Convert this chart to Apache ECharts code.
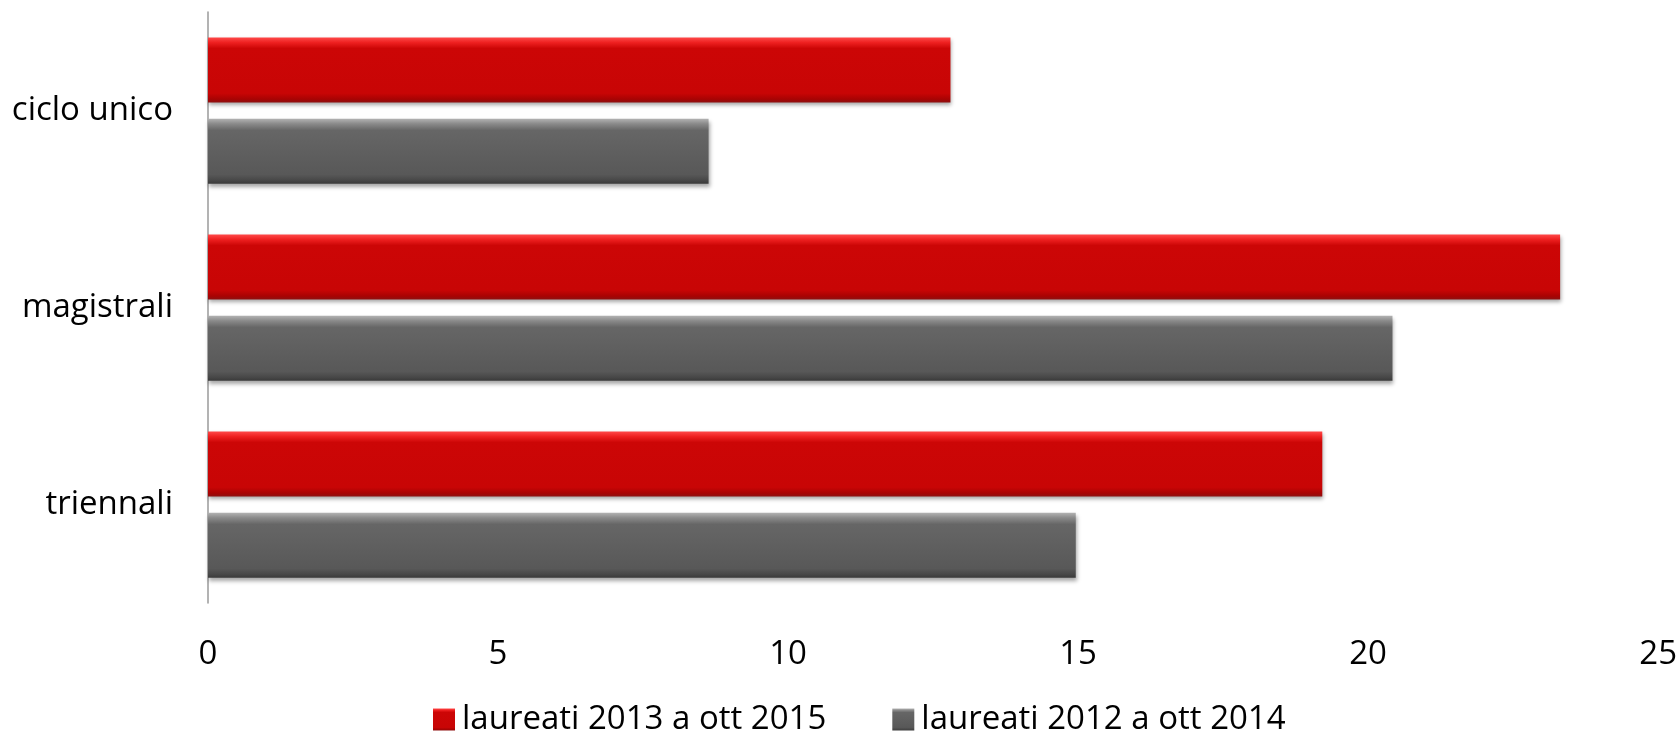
<!DOCTYPE html>
<html>
<head>
<meta charset="utf-8">
<script src="https://cdn.jsdelivr.net/npm/echarts@6/dist/echarts.min.js"></script>
<style>
  html, body { margin: 0; padding: 0; background: #ffffff; }
  #chart { width: 1680px; height: 733px; }
</style>
</head>
<body>
<div id="chart"></div>
<script>
// Categories, bottom to top along the category axis
const categories = ['triennali', 'magistrali', 'ciclo unico'];
// Series values (same order as categories)
const laureati2013 = [19.21, 23.31, 12.80];
const laureati2012 = [14.96, 20.42, 8.63];
const seriesNames = ['laureati 2013 a ott 2015', 'laureati 2012 a ott 2014'];
const xTicks = [0, 5, 10, 15, 20, 25];

const FONT = '"Open Sans", Lato, sans-serif';
const FS = 33;

function bevel(stops) {
  return new echarts.graphic.LinearGradient(0, 0, 0, 1, stops);
}

const redFill = bevel([
  { offset: 0, color: '#ff4a4a' },
  { offset: 0.08, color: '#ee2020' },
  { offset: 0.17, color: '#cc0606' },
  { offset: 0.86, color: '#c80505' },
  { offset: 0.95, color: '#a80303' },
  { offset: 1, color: '#8e1010' }
]);
const grayFill = bevel([
  { offset: 0, color: '#b4b4b4' },
  { offset: 0.08, color: '#8a8a8a' },
  { offset: 0.18, color: '#666666' },
  { offset: 0.86, color: '#585858' },
  { offset: 0.95, color: '#474747' },
  { offset: 1, color: '#3a3a3a' }
]);

const barShadow = {
  shadowColor: 'rgba(0,0,0,0.35)',
  shadowBlur: 4,
  shadowOffsetX: 1,
  shadowOffsetY: 3
};

const chart = echarts.init(document.getElementById('chart'), null, { renderer: 'canvas' });
chart.setOption({
  animation: false,
  backgroundColor: '#ffffff',
  grid: { left: 208, right: 21, top: 12, bottom: 130, containLabel: false },
  legend: {
    data: [seriesNames[0], seriesNames[1]],
    top: 698,
    left: 428,
    itemWidth: 22,
    itemHeight: 22,
    itemGap: 66,
    icon: 'rect',
    textStyle: { fontFamily: FONT, fontSize: FS, color: '#000000', padding: [0, 0, 0, 2] }
  },
  xAxis: {
    type: 'value',
    min: xTicks[0],
    max: xTicks[xTicks.length - 1],
    interval: 5,
    axisLine: { show: false },
    axisTick: { show: false },
    splitLine: { show: false },
    axisLabel: { margin: 35, fontFamily: FONT, fontSize: FS, color: '#000000' }
  },
  yAxis: {
    type: 'category',
    data: categories,
    axisLine: { show: true, lineStyle: { color: '#9a9a9a', width: 1.5 } },
    axisTick: { show: false },
    axisLabel: { margin: 35, fontFamily: FONT, fontSize: FS, color: '#000000' }
  },
  series: [
    {
      name: seriesNames[0],
      type: 'bar',
      data: laureati2013,
      barWidth: 65,
      barGap: '25%',
      itemStyle: Object.assign({ color: redFill }, barShadow)
    },
    {
      name: seriesNames[1],
      type: 'bar',
      data: laureati2012,
      barWidth: 65,
      barGap: '25%',
      itemStyle: Object.assign({ color: grayFill }, barShadow)
    }
  ]
});
</script>
</body>
</html>
